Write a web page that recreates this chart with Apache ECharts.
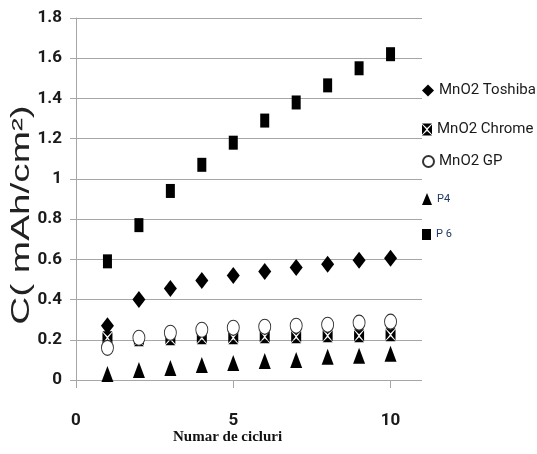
<!DOCTYPE html>
<html><head><meta charset="utf-8">
<script src="https://cdn.jsdelivr.net/npm/echarts@6/dist/echarts.min.js"></script>
<style>html,body{margin:0;padding:0;background:#fff}#c{width:537px;height:454px}</style>
</head><body><div id="c"></div>
<script>
const cycles = [1,2,3,4,5,6,7,8,9,10];
const toshiba = [0.27,0.40,0.455,0.495,0.52,0.54,0.56,0.575,0.595,0.605];
const chrome = [0.21,0.20,0.205,0.21,0.21,0.215,0.215,0.22,0.22,0.225];
const gp = [0.16,0.21,0.235,0.25,0.26,0.265,0.27,0.275,0.285,0.29];
const p4 = [0.03,0.05,0.06,0.075,0.085,0.095,0.10,0.115,0.12,0.13];
const p6 = [0.59,0.77,0.94,1.07,1.18,1.29,1.38,1.465,1.55,1.62];
const yTicks = ['0','0.2','0.4','0.6','0.8','1','1.2','1.4','1.6','1.8'];
const xTicks = ['0','5','10'];
const names = ['MnO2 Toshiba','MnO2 Chrome','MnO2 GP','P4','P 6'];

const pairs = arr => cycles.map((c,i)=>[c,arr[i]]);
const chromeSym = 'path://M0,0 L10,0 L5,4.6 Z M0,12 L10,12 L5,7.4 Z M0,0.9 L4.3,6 L0,11.1 Z M10,0.9 L5.7,6 L10,11.1 Z';
const narrow = "Roboto,'Liberation Sans',sans-serif";

const chart = echarts.init(document.getElementById('c'));
const legendTops = [78,117,149,188,224];
const legendSizes = [[12,12],[10,12],[11,11],[10,12],[9,11]];
chart.setOption({
  animation:false,
  backgroundColor:'#fff',
  grid:{left:76,right:115,top:18,bottom:74},
  xAxis:{type:'value',min:0,max:11,interval:5,
    axisLine:{show:false},
    axisTick:{show:true,length:8,lineStyle:{color:'#a6a6a6'}},
    splitLine:{show:false},
    axisLabel:{margin:32,fontFamily:narrow,fontWeight:'bold',fontSize:17,color:'#1a1a1a',showMaxLabel:false,
      formatter:v=>xTicks.includes(String(v))?String(v):''}},
  yAxis:{type:'value',min:0,max:1.8,interval:0.2,
    axisLine:{show:true,lineStyle:{color:'#a6a6a6'}},
    axisTick:{show:true,length:6,lineStyle:{color:'#a6a6a6'}},
    splitLine:{show:true,lineStyle:{color:'#a6a6a6',width:1}},
    axisLabel:{margin:14,fontFamily:narrow,fontWeight:'bold',fontSize:17,color:'#1a1a1a',
      formatter:v=>{const s=String(Math.round(v*10)/10);return yTicks.includes(s)?s:'';}}},
  legend:names.map((n,i)=>({
    data:[n],left:417,top:legendTops[i],orient:'vertical',
    itemWidth:legendSizes[i][0],itemHeight:legendSizes[i][1],itemGap:0,
    formatter:i>=3?'{s|{name}}':'{b|{name}}',
    textStyle:{rich:{
      b:{fontFamily:narrow,fontSize:15,color:'#1a1a1a'},
      s:{fontFamily:narrow,fontSize:11,color:'#1f3864'}}}
  })),
  graphic:[
    {type:'text',left:173,top:430,
      style:{text:'Numar de cicluri',fontFamily:"'Liberation Serif','Times New Roman',serif",fontWeight:'bold',fontSize:15,fill:'#111'}},
    {type:'text',x:22,y:215,rotation:Math.PI/2,scaleX:1.55,scaleY:1,
      style:{text:'C( mAh/cm\u00B2)',align:'center',verticalAlign:'middle',fontFamily:"'Liberation Sans',Arial,sans-serif",fontSize:25,fill:'#222'}}
  ],
  series:[
    {name:names[0],type:'scatter',data:pairs(toshiba),symbol:'diamond',symbolSize:[13,17],itemStyle:{color:'#000',opacity:1},z:3},
    {name:names[1],type:'scatter',data:pairs(chrome),symbol:chromeSym,symbolSize:[10,13],itemStyle:{color:'#000',opacity:1},z:2},
    {name:names[2],type:'scatter',data:pairs(gp),symbol:'circle',symbolSize:[12,15],itemStyle:{color:'#fff',borderColor:'#333',borderWidth:1,opacity:1},z:4},
    {name:names[3],type:'scatter',data:pairs(p4),symbol:'triangle',symbolSize:[12,16],itemStyle:{color:'#000',opacity:1},z:3},
    {name:names[4],type:'scatter',data:pairs(p6),symbol:'rect',symbolSize:[9,14],itemStyle:{color:'#000',opacity:1},z:3}
  ]
});
</script></body></html>
